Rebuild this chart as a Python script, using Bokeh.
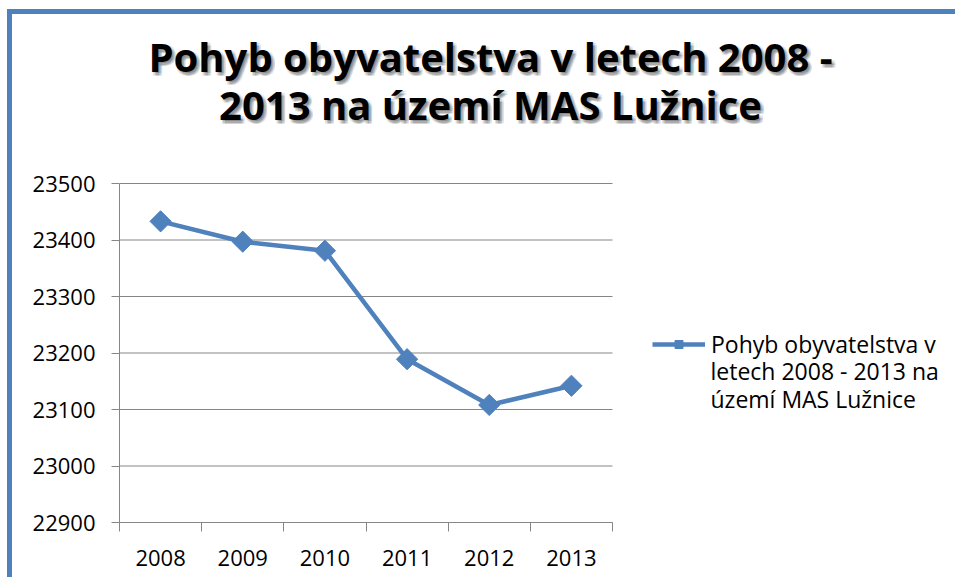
from bokeh.plotting import figure
from bokeh.models import FixedTicker, Legend, LegendItem, Label, Range1d
from bokeh.embed import file_html
from bokeh.resources import INLINE
import numpy as np

# ---- data ----
years = ["2008", "2009", "2010", "2011", "2012", "2013"]
population = [23433, 23397, 23381, 23189, 23108, 23142]
y_ticks = [22900, 23000, 23100, 23200, 23300, 23400, 23500]
y_tick_labels = ["22900", "23000", "23100", "23200", "23300", "23400", "23500"]
title_lines = ["Pohyb obyvatelstva v letech 2008 -", "2013 na území MAS Lužnice"]
legend_lines = ["Pohyb obyvatelstva v", "letech 2008 - 2013 na", "území MAS Lužnice"]

BLUE = "#4F81BD"
GRID = "#868686"
FONT = "Open Sans"

# ---- layout (pixels on the canvas) ----
W, H = 948, 568
LEFT, BOTTOM = 107, 60
CHART_W, CHART_H = 493, 339          # drawn chart area inside the frame
frame_w, frame_h = W - LEFT, H - BOTTOM

n = len(years)
x_pos = [i + 0.5 for i in range(n)]
y0, y1 = y_ticks[0], y_ticks[-1]
x_end = n * frame_w / CHART_W
y_end = y0 + (y1 - y0) * frame_h / CHART_H

p = figure(width=W, height=H, output_backend="svg", toolbar_location=None,
           x_range=Range1d(0, x_end), y_range=Range1d(y0, y_end),
           min_border_left=LEFT, min_border_top=0, min_border_bottom=BOTTOM,
           min_border_right=0)
p.styles = {"border-top": "5px solid " + BLUE, "border-left": "5px solid " + BLUE,
            "margin-top": "9px", "margin-left": "7px"}
p.outline_line_color = None
p.background_fill_color = "white"
p.border_fill_color = "white"
p.xgrid.visible = False
p.ygrid.visible = False

# axes
p.yaxis.bounds = (y0, y1)
p.yaxis.ticker = FixedTicker(ticks=y_ticks)
p.yaxis.major_label_overrides = dict(zip(y_ticks, y_tick_labels))
p.yaxis.axis_line_color = GRID
p.yaxis.major_tick_line_color = GRID
p.yaxis.major_tick_out = 8
p.yaxis.major_tick_in = 0
p.yaxis.minor_tick_line_color = None
p.yaxis.major_label_standoff = 16
p.yaxis.major_label_text_font = FONT
p.yaxis.major_label_text_font_size = "22px"
p.yaxis.major_label_text_color = "black"

p.xaxis.bounds = (0, n)
p.xaxis.ticker = FixedTicker(ticks=x_pos, minor_ticks=list(range(n + 1)))
p.xaxis.major_label_overrides = dict(zip(x_pos, years))
p.xaxis.axis_line_color = GRID
p.xaxis.major_tick_line_color = None
p.xaxis.major_tick_out = 0
p.xaxis.major_tick_in = 0
p.xaxis.minor_tick_line_color = GRID
p.xaxis.minor_tick_out = 9
p.xaxis.minor_tick_in = 0
p.xaxis.major_label_standoff = 18
p.xaxis.major_label_text_font = FONT
p.xaxis.major_label_text_font_size = "22px"
p.xaxis.major_label_text_color = "black"

# horizontal gridlines across the category span
p.segment(x0=[0] * len(y_ticks), x1=[n] * len(y_ticks), y0=y_ticks, y1=y_ticks,
          line_color=GRID, line_width=1)

# data
line_r = p.line(x_pos, population, line_color=BLUE, line_width=4.5)
scat_r = p.scatter(x_pos, population, marker="square", angle=np.pi / 4, size=15,
                   fill_color=BLUE, line_color=BLUE)

# legend: first line with glyph, continuation lines as labels
legend = Legend(items=[LegendItem(label=legend_lines[0], renderers=[line_r, scat_r])],
                location=(533, 162), padding=0, margin=0, spacing=0,
                glyph_width=53, glyph_height=20, label_height=20, label_standoff=6,
                border_line_color=None, background_fill_alpha=0,
                label_text_font=FONT, label_text_font_size="23px",
                label_text_color="black")
p.add_layout(legend, "center")

for i, txt in enumerate(legend_lines[1:]):
    p.add_layout(Label(x=693, y=351 + 28 * i, x_units="canvas", y_units="canvas",
                       text=txt, text_align="left", text_baseline="alphabetic",
                       text_font=FONT, text_font_size="23px", text_color="black"))

# title with soft shadow
shadow_offsets = [(dx, dy) for dx in (1, 2.5, 4) for dy in (1, 2.5, 4)]
for j, txt in enumerate(title_lines):
    yb = 37 + 48 * j
    for dx, dy in shadow_offsets:
        p.add_layout(Label(x=473 + dx, y=yb + dy, x_units="canvas", y_units="canvas",
                           text=txt, text_align="center", text_baseline="alphabetic",
                           text_font=FONT, text_font_style="bold",
                           text_font_size="40px", text_color="black",
                           text_alpha=0.07))
    p.add_layout(Label(x=473, y=yb, x_units="canvas", y_units="canvas",
                       text=txt, text_align="center", text_baseline="alphabetic",
                       text_font=FONT, text_font_style="bold", text_font_size="40px",
                       text_color="black"))

open("out.html", "w").write(file_html(p, INLINE))
